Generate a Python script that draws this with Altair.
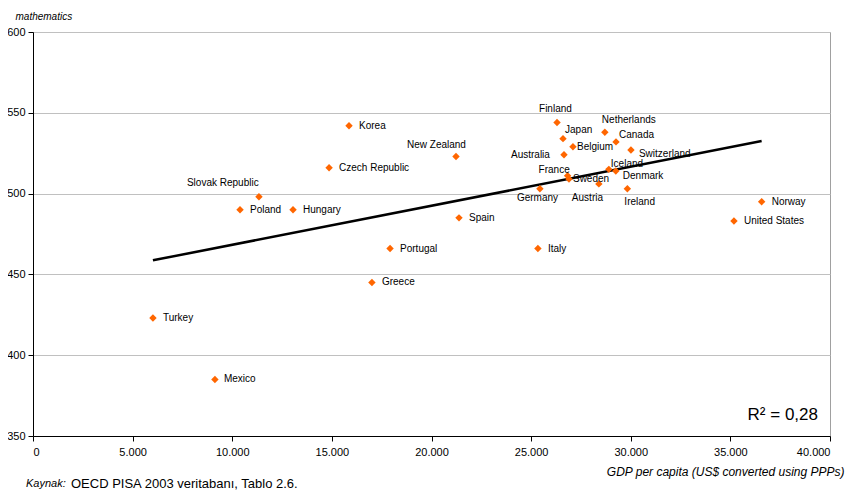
import altair as alt
import pandas as pd

countries = ["Korea", "New Zealand", "Czech Republic", "Slovak Republic", "Poland", "Hungary",
             "Spain", "Portugal", "Greece", "Turkey", "Mexico", "Finland", "Netherlands", "Japan",
             "Canada", "Belgium", "Australia", "Switzerland", "Iceland", "Denmark", "France",
             "Sweden", "Austria", "Germany", "Ireland", "Italy", "Norway", "United States"]
gdp = [15860, 21230, 14860, 11340, 10390, 13050,
       21380, 17920, 17010, 6020, 9130, 26300, 28700, 26600,
       29260, 27100, 26650, 30010, 28900, 29250, 26830,
       26900, 28400, 25440, 29830, 25340, 36570, 35180]
math = [542, 523, 516, 498, 490, 490,
        485, 466, 445, 423, 385, 544, 538, 534,
        532, 529, 524, 527, 515, 514, 511,
        509, 506, 503, 503, 466, 495, 483]
# label placement relative to each marker (layout, pixels)
label_dx = [10, -49, 10, -72, 10, 10, 10, 10, 10, 10, 9, -18, -3, 2,
            3, 4, -53, 8, 2, 7, -29, 4, -27, -23, -3, 10, 10, 10]
label_dy = [0, -11, 0, -14, 0, 0, 0, 0, 0, 0, 0, -13, -12, -9,
            -7, 0, 0, 4, -5, 5, -6, 0, 14, 9, 13, 0, 0, 0]

x_ticks = [0, 5000, 10000, 15000, 20000, 25000, 30000, 35000, 40000]
y_ticks = [350, 400, 450, 500, 550, 600]

df = pd.DataFrame({"country": countries, "gdp": gdp, "math": math,
                   "ldx": label_dx, "ldy": label_dy})

FONT = "Liberation Sans"

x = alt.X("gdp:Q", scale=alt.Scale(domain=[0, 40000], nice=False),
          axis=alt.Axis(values=x_ticks, grid=False, domainColor="black", tickColor="black",
                        tickSize=5, labelPadding=5, labelFontSize=11, labelColor="black",
                        labelFont=FONT,
                        labelExpr="replace(format(datum.value, ','), ',', '.')",
                        title="GDP per capita (US$ converted using PPPs)",
                        titleFont=FONT, titleFontSize=12, titleFontStyle="italic",
                        titleFontWeight="normal", titleColor="black",
                        titleAnchor="end", titleAlign="right", titleX=811, titleY=35,
                        titleBaseline="middle"))
y = alt.Y("math:Q", scale=alt.Scale(domain=[350, 600], nice=False, zero=False),
          axis=alt.Axis(values=y_ticks, grid=True, gridColor="#c0c0c0", domainColor="black",
                        tickColor="black", tickSize=5, labelPadding=3, labelFontSize=11,
                        labelColor="black", labelFont=FONT,
                        title="mathematics", titleAngle=0, titleAlign="left",
                        titleX=-18, titleY=-13, titleBaseline="alphabetic",
                        titleFont=FONT, titleFontSize=10, titleFontStyle="italic",
                        titleFontWeight="normal", titleColor="black"))

base = alt.Chart(df)

points = base.mark_point(shape="diamond", filled=True, size=55, color="#FF6600", opacity=1).encode(
    x=x, y=y)

trend = base.transform_regression("gdp", "math").mark_line(color="black", strokeWidth=2.5).encode(
    x="gdp:Q", y="math:Q")

labels = base.mark_text(align="left", baseline="middle", font=FONT, fontSize=10, color="black",
                        dx=alt.expr("datum.ldx"), dy=alt.expr("datum.ldy")).encode(
    x="gdp:Q", y="math:Q", text="country:N")

r2 = alt.Chart(pd.DataFrame({"t": ["R² = 0,28"]})).mark_text(
    align="right", baseline="alphabetic", font=FONT, fontSize=17, color="black").encode(
    x=alt.value(785), y=alt.value(388), text="t:N")

src1 = alt.Chart(pd.DataFrame({"t": ["Kaynak:"]})).mark_text(
    align="left", baseline="middle", font=FONT, fontSize=11, fontStyle="italic", color="black").encode(
    x=alt.value(-7), y=alt.value(452), text="t:N")
src2 = alt.Chart(pd.DataFrame({"t": ["OECD PISA 2003 veritabanı, Tablo 2.6."]})).mark_text(
    align="left", baseline="middle", font=FONT, fontSize=13, color="black").encode(
    x=alt.value(38), y=alt.value(452), text="t:N")

chart = alt.layer(trend, points, labels, r2, src1, src2).properties(
    width=797, height=404,
    autosize=alt.AutoSizeParams(type="none"),
    padding={"left": 25, "top": 24, "right": 15, "bottom": 55},
    background="white",
).configure_view(stroke="#a0a0a0", strokeWidth=1)

chart.save("out.html", embed_options={"renderer": "svg", "actions": False})
